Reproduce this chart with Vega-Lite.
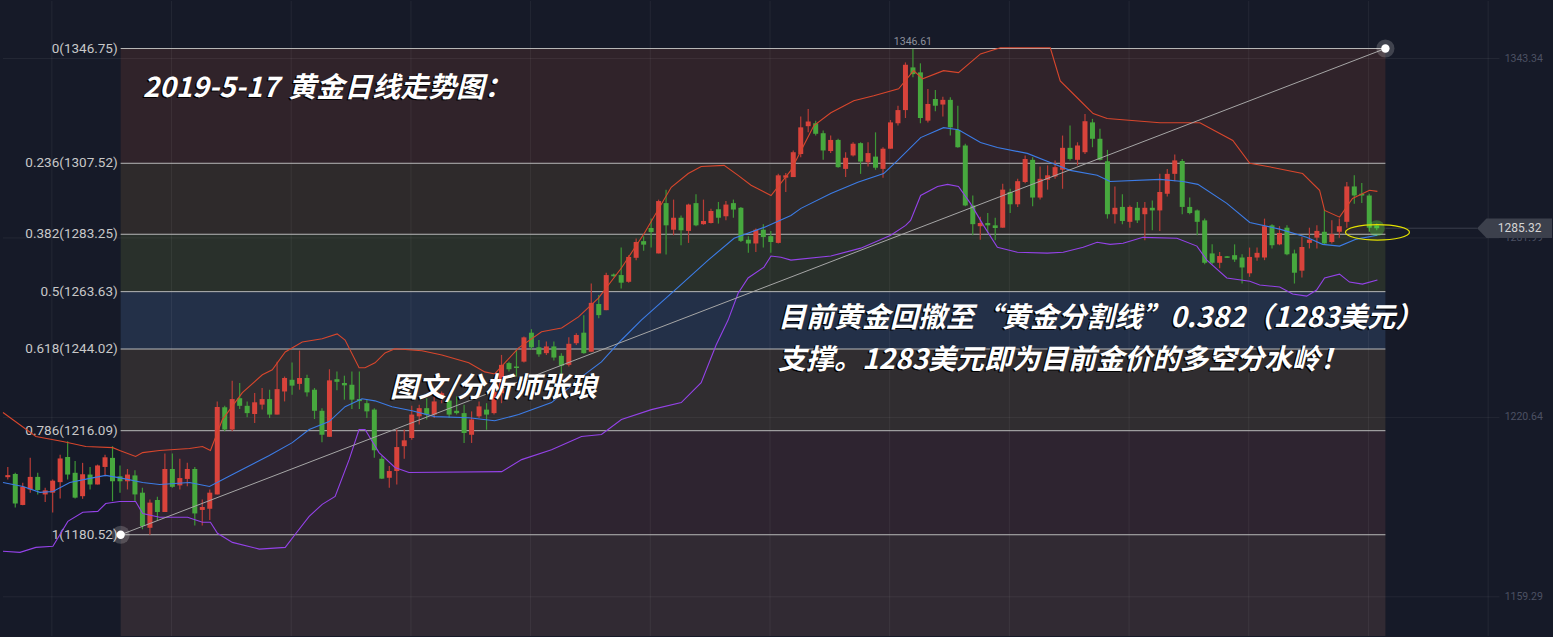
{
"$schema":"https://vega.github.io/schema/vega-lite/v6.json",
"width":1553,"height":637,
"autosize":{"type":"fit","contains":"padding"},
"padding":0,
"background":"#161a28",
"config":{"view":{"stroke":null},"scale":{"continuousPadding":0}},
"datasets":{
"bands":[{"z":"a","p":1346.75,"p2":1307.52},{"z":"b","p":1307.52,"p2":1283.25},{"z":"c","p":1283.25,"p2":1263.63},{"z":"d","p":1263.63,"p2":1244.02},{"z":"e","p":1244.02,"p2":1216.09},{"z":"f","p":1216.09,"p2":1180.52},{"z":"g","p":1180.52,"p2":1145.9}],
"fib":[{"p":1346.75,"t":"0(1346.75)"},{"p":1307.52,"t":"0.236(1307.52)"},{"p":1283.25,"t":"0.382(1283.25)"},{"p":1263.63,"t":"0.5(1263.63)"},{"p":1244.02,"t":"0.618(1244.02)"},{"p":1216.09,"t":"0.786(1216.09)"},{"p":1180.52,"t":"1(1180.52)"}],
"vgrid":[{"i":5.89},{"i":21.89},{"i":37.89},{"i":53.89},{"i":69.89},{"i":85.89},{"i":101.89},{"i":117.89},{"i":133.89},{"i":149.89},{"i":165.89},{"i":181.89},{"i":197.89}],
"hgrid":[{"p":1343.34,"t":"1343.34"},{"p":1281.99,"t":"1281.99"},{"p":1220.64,"t":"1220.64"},{"p":1159.29,"t":"1159.29"}],
"anchors":[{"i":15.09,"p":1180.52},{"i":184.16,"p":1346.75}],
"candles":[
{"i":0,"o":1200.2,"h":1203.7,"l":1199.4,"c":1200.9},
{"i":1,"o":1201.3,"h":1201.7,"l":1189.8,"c":1191.2},
{"i":2,"o":1190.7,"h":1198.3,"l":1190.6,"c":1196.9},
{"i":3,"o":1196.0,"h":1206.8,"l":1194.9,"c":1200.3},
{"i":4,"o":1200.3,"h":1201.7,"l":1194.3,"c":1195.8},
{"i":5,"o":1194.3,"h":1196.6,"l":1191.7,"c":1195.7},
{"i":6,"o":1194.9,"h":1199.4,"l":1188.1,"c":1199.0},
{"i":7,"o":1198.5,"h":1207.9,"l":1192.9,"c":1206.6},
{"i":8,"o":1207.1,"h":1212.5,"l":1199.4,"c":1201.1},
{"i":9,"o":1201.7,"h":1205.7,"l":1192.9,"c":1193.2},
{"i":10,"o":1193.7,"h":1205.1,"l":1192.8,"c":1201.2},
{"i":11,"o":1201.1,"h":1203.7,"l":1196.0,"c":1197.7},
{"i":12,"o":1197.7,"h":1204.5,"l":1197.7,"c":1204.2},
{"i":13,"o":1203.7,"h":1207.9,"l":1200.5,"c":1207.0},
{"i":14,"o":1206.8,"h":1210.8,"l":1192.0,"c":1198.8},
{"i":15,"o":1200.5,"h":1204.2,"l":1194.9,"c":1198.8},
{"i":16,"o":1198.8,"h":1203.0,"l":1196.0,"c":1201.1},
{"i":17,"o":1200.8,"h":1202.6,"l":1192.0,"c":1194.3},
{"i":18,"o":1194.9,"h":1196.6,"l":1182.4,"c":1183.5},
{"i":19,"o":1182.9,"h":1192.6,"l":1180.5,"c":1191.5},
{"i":20,"o":1192.4,"h":1193.5,"l":1185.2,"c":1188.3},
{"i":21,"o":1188.3,"h":1208.3,"l":1188.3,"c":1203.0},
{"i":22,"o":1203.0,"h":1208.3,"l":1196.6,"c":1196.9},
{"i":23,"o":1197.4,"h":1206.5,"l":1196.0,"c":1199.9},
{"i":24,"o":1199.6,"h":1205.1,"l":1197.1,"c":1203.0},
{"i":25,"o":1203.0,"h":1203.7,"l":1183.7,"c":1187.8},
{"i":26,"o":1189.0,"h":1192.6,"l":1183.7,"c":1190.0},
{"i":27,"o":1189.4,"h":1196.0,"l":1185.6,"c":1194.9},
{"i":28,"o":1194.3,"h":1226.1,"l":1194.3,"c":1224.2},
{"i":29,"o":1224.1,"h":1224.6,"l":1215.9,"c":1216.5},
{"i":30,"o":1216.5,"h":1233.2,"l":1215.9,"c":1226.9},
{"i":31,"o":1227.2,"h":1232.4,"l":1223.5,"c":1224.6},
{"i":32,"o":1224.6,"h":1226.1,"l":1220.7,"c":1222.1},
{"i":33,"o":1221.8,"h":1229.0,"l":1218.7,"c":1225.8},
{"i":34,"o":1225.0,"h":1230.7,"l":1223.3,"c":1226.9},
{"i":35,"o":1226.9,"h":1230.1,"l":1220.4,"c":1221.6},
{"i":36,"o":1221.6,"h":1239.7,"l":1221.6,"c":1230.3},
{"i":37,"o":1229.5,"h":1234.6,"l":1226.1,"c":1234.1},
{"i":38,"o":1233.5,"h":1239.4,"l":1228.4,"c":1231.5},
{"i":39,"o":1232.1,"h":1243.5,"l":1230.1,"c":1234.1},
{"i":40,"o":1234.1,"h":1235.2,"l":1227.8,"c":1229.2},
{"i":41,"o":1230.1,"h":1230.7,"l":1220.1,"c":1222.9},
{"i":42,"o":1222.9,"h":1223.8,"l":1212.1,"c":1214.7},
{"i":43,"o":1214.0,"h":1237.1,"l":1214.0,"c":1233.3},
{"i":44,"o":1233.7,"h":1236.3,"l":1229.9,"c":1232.8},
{"i":45,"o":1232.4,"h":1234.9,"l":1226.7,"c":1231.6},
{"i":46,"o":1231.8,"h":1236.3,"l":1223.5,"c":1226.7},
{"i":47,"o":1226.9,"h":1236.3,"l":1223.5,"c":1226.2},
{"i":48,"o":1225.5,"h":1226.7,"l":1220.4,"c":1222.7},
{"i":49,"o":1223.3,"h":1223.8,"l":1206.8,"c":1209.4},
{"i":50,"o":1206.5,"h":1207.4,"l":1199.6,"c":1199.7},
{"i":51,"o":1200.0,"h":1204.0,"l":1196.6,"c":1202.3},
{"i":52,"o":1202.3,"h":1216.5,"l":1197.7,"c":1210.5},
{"i":53,"o":1210.8,"h":1216.5,"l":1206.5,"c":1212.8},
{"i":54,"o":1213.6,"h":1224.6,"l":1213.0,"c":1221.6},
{"i":55,"o":1221.0,"h":1225.0,"l":1218.2,"c":1223.8},
{"i":56,"o":1223.8,"h":1227.2,"l":1219.9,"c":1221.6},
{"i":57,"o":1221.6,"h":1227.8,"l":1220.4,"c":1226.1},
{"i":58,"o":1227.8,"h":1229.5,"l":1225.5,"c":1228.9},
{"i":59,"o":1226.4,"h":1227.8,"l":1220.4,"c":1221.6},
{"i":60,"o":1222.9,"h":1227.8,"l":1221.6,"c":1222.1},
{"i":61,"o":1222.1,"h":1225.0,"l":1211.9,"c":1215.3},
{"i":62,"o":1214.7,"h":1222.7,"l":1211.9,"c":1219.9},
{"i":63,"o":1221.0,"h":1226.1,"l":1220.4,"c":1224.4},
{"i":64,"o":1223.3,"h":1225.5,"l":1216.4,"c":1221.6},
{"i":65,"o":1222.1,"h":1231.8,"l":1221.6,"c":1229.5},
{"i":66,"o":1228.9,"h":1242.0,"l":1225.5,"c":1238.6},
{"i":67,"o":1239.2,"h":1239.7,"l":1236.3,"c":1237.1},
{"i":68,"o":1238.0,"h":1243.7,"l":1234.6,"c":1237.5},
{"i":69,"o":1239.7,"h":1248.3,"l":1239.4,"c":1248.0},
{"i":70,"o":1249.6,"h":1250.8,"l":1243.7,"c":1244.6},
{"i":71,"o":1244.6,"h":1247.1,"l":1241.4,"c":1242.2},
{"i":72,"o":1242.6,"h":1246.6,"l":1242.0,"c":1244.9},
{"i":73,"o":1244.9,"h":1246.6,"l":1240.1,"c":1241.1},
{"i":74,"o":1241.7,"h":1242.6,"l":1234.1,"c":1238.3},
{"i":75,"o":1238.6,"h":1248.0,"l":1238.0,"c":1245.8},
{"i":76,"o":1246.0,"h":1249.4,"l":1245.4,"c":1248.8},
{"i":77,"o":1249.6,"h":1255.6,"l":1242.4,"c":1242.6},
{"i":78,"o":1243.1,"h":1266.4,"l":1243.1,"c":1259.8},
{"i":79,"o":1259.4,"h":1262.5,"l":1254.5,"c":1255.6},
{"i":80,"o":1257.3,"h":1270.1,"l":1257.3,"c":1269.3},
{"i":81,"o":1269.5,"h":1269.8,"l":1268.7,"c":1268.9},
{"i":82,"o":1269.3,"h":1278.7,"l":1264.7,"c":1266.7},
{"i":83,"o":1267.0,"h":1276.1,"l":1266.7,"c":1275.5},
{"i":84,"o":1275.2,"h":1281.8,"l":1274.4,"c":1280.6},
{"i":85,"o":1280.9,"h":1282.6,"l":1277.6,"c":1279.7},
{"i":86,"o":1285.4,"h":1288.6,"l":1278.7,"c":1284.0},
{"i":87,"o":1276.7,"h":1295.1,"l":1276.7,"c":1294.6},
{"i":88,"o":1293.9,"h":1298.5,"l":1276.3,"c":1286.3},
{"i":89,"o":1284.8,"h":1295.1,"l":1282.9,"c":1288.9},
{"i":90,"o":1288.9,"h":1289.7,"l":1279.5,"c":1284.6},
{"i":91,"o":1284.4,"h":1293.7,"l":1280.3,"c":1293.4},
{"i":92,"o":1293.9,"h":1296.9,"l":1286.0,"c":1286.3},
{"i":93,"o":1286.7,"h":1295.1,"l":1286.5,"c":1287.8},
{"i":94,"o":1287.1,"h":1292.0,"l":1286.9,"c":1291.2},
{"i":95,"o":1291.8,"h":1294.3,"l":1286.9,"c":1288.9},
{"i":96,"o":1289.4,"h":1294.6,"l":1288.0,"c":1293.4},
{"i":97,"o":1293.9,"h":1295.1,"l":1288.9,"c":1291.7},
{"i":98,"o":1292.3,"h":1292.6,"l":1280.6,"c":1281.0},
{"i":99,"o":1281.4,"h":1282.6,"l":1276.9,"c":1280.1},
{"i":100,"o":1280.1,"h":1285.2,"l":1277.2,"c":1284.8},
{"i":101,"o":1284.8,"h":1286.7,"l":1278.7,"c":1282.3},
{"i":102,"o":1282.6,"h":1284.4,"l":1276.9,"c":1280.6},
{"i":103,"o":1280.3,"h":1303.9,"l":1280.1,"c":1303.4},
{"i":104,"o":1302.6,"h":1304.2,"l":1297.7,"c":1303.4},
{"i":105,"o":1302.8,"h":1311.9,"l":1302.8,"c":1311.3},
{"i":106,"o":1310.7,"h":1323.5,"l":1309.6,"c":1319.8},
{"i":107,"o":1320.2,"h":1326.1,"l":1318.1,"c":1321.8},
{"i":108,"o":1321.2,"h":1322.1,"l":1317.0,"c":1317.6},
{"i":109,"o":1317.8,"h":1318.7,"l":1308.7,"c":1311.9},
{"i":110,"o":1311.7,"h":1317.0,"l":1311.0,"c":1315.5},
{"i":111,"o":1315.5,"h":1315.9,"l":1306.0,"c":1306.2},
{"i":112,"o":1305.6,"h":1311.3,"l":1302.8,"c":1309.4},
{"i":113,"o":1310.2,"h":1314.7,"l":1309.8,"c":1314.2},
{"i":114,"o":1314.4,"h":1314.7,"l":1303.9,"c":1308.1},
{"i":115,"o":1307.9,"h":1314.7,"l":1306.4,"c":1311.0},
{"i":116,"o":1309.8,"h":1318.1,"l":1305.3,"c":1306.0},
{"i":117,"o":1305.6,"h":1313.0,"l":1302.6,"c":1312.5},
{"i":118,"o":1312.5,"h":1322.3,"l":1312.5,"c":1321.5},
{"i":119,"o":1321.2,"h":1327.2,"l":1320.4,"c":1325.7},
{"i":120,"o":1325.7,"h":1342.0,"l":1323.0,"c":1341.2},
{"i":121,"o":1340.3,"h":1346.6,"l":1336.9,"c":1338.0},
{"i":122,"o":1338.6,"h":1341.7,"l":1321.2,"c":1323.0},
{"i":123,"o":1322.1,"h":1332.9,"l":1321.5,"c":1327.8},
{"i":124,"o":1329.5,"h":1332.6,"l":1325.3,"c":1327.2},
{"i":125,"o":1327.6,"h":1330.3,"l":1323.5,"c":1329.2},
{"i":126,"o":1329.2,"h":1330.1,"l":1317.0,"c":1319.8},
{"i":127,"o":1318.9,"h":1327.2,"l":1312.8,"c":1313.0},
{"i":128,"o":1313.6,"h":1314.2,"l":1292.8,"c":1293.1},
{"i":129,"o":1293.1,"h":1296.5,"l":1282.9,"c":1286.7},
{"i":130,"o":1286.0,"h":1289.2,"l":1281.4,"c":1287.1},
{"i":131,"o":1287.1,"h":1290.5,"l":1283.5,"c":1286.3},
{"i":132,"o":1286.3,"h":1288.9,"l":1281.2,"c":1285.4},
{"i":133,"o":1285.5,"h":1300.5,"l":1285.5,"c":1298.5},
{"i":134,"o":1297.7,"h":1298.8,"l":1290.5,"c":1293.5},
{"i":135,"o":1293.5,"h":1302.2,"l":1292.6,"c":1301.4},
{"i":136,"o":1301.1,"h":1310.2,"l":1300.7,"c":1309.0},
{"i":137,"o":1308.7,"h":1309.6,"l":1292.8,"c":1295.8},
{"i":138,"o":1295.8,"h":1306.4,"l":1295.1,"c":1302.2},
{"i":139,"o":1301.9,"h":1306.8,"l":1298.5,"c":1303.4},
{"i":140,"o":1303.0,"h":1308.5,"l":1302.2,"c":1306.2},
{"i":141,"o":1305.3,"h":1317.0,"l":1298.8,"c":1312.8},
{"i":142,"o":1312.8,"h":1320.4,"l":1308.5,"c":1309.0},
{"i":143,"o":1308.7,"h":1314.7,"l":1306.8,"c":1313.6},
{"i":144,"o":1311.3,"h":1324.4,"l":1310.7,"c":1321.9},
{"i":145,"o":1321.5,"h":1322.7,"l":1313.0,"c":1315.9},
{"i":146,"o":1315.9,"h":1319.3,"l":1308.5,"c":1308.7},
{"i":147,"o":1308.2,"h":1312.1,"l":1288.6,"c":1290.1},
{"i":148,"o":1290.1,"h":1299.6,"l":1286.9,"c":1292.3},
{"i":149,"o":1292.6,"h":1296.9,"l":1286.7,"c":1287.8},
{"i":150,"o":1287.5,"h":1293.1,"l":1285.5,"c":1292.6},
{"i":151,"o":1292.3,"h":1294.3,"l":1287.1,"c":1288.0},
{"i":152,"o":1290.1,"h":1294.3,"l":1281.2,"c":1292.3},
{"i":153,"o":1292.3,"h":1294.8,"l":1284.6,"c":1291.4},
{"i":154,"o":1291.4,"h":1303.9,"l":1284.4,"c":1297.7},
{"i":155,"o":1297.1,"h":1305.6,"l":1296.2,"c":1303.9},
{"i":156,"o":1303.9,"h":1310.5,"l":1301.4,"c":1308.5},
{"i":157,"o":1308.3,"h":1309.0,"l":1290.1,"c":1292.6},
{"i":158,"o":1292.6,"h":1295.8,"l":1290.1,"c":1290.5},
{"i":159,"o":1291.4,"h":1291.7,"l":1282.9,"c":1287.5},
{"i":160,"o":1288.0,"h":1288.6,"l":1273.0,"c":1273.5},
{"i":161,"o":1276.7,"h":1279.8,"l":1273.0,"c":1273.5},
{"i":162,"o":1273.5,"h":1277.2,"l":1271.6,"c":1275.8},
{"i":163,"o":1275.7,"h":1275.8,"l":1275.1,"c":1275.2},
{"i":164,"o":1276.1,"h":1279.8,"l":1273.8,"c":1274.6},
{"i":165,"o":1275.3,"h":1276.4,"l":1266.4,"c":1271.9},
{"i":166,"o":1269.9,"h":1278.7,"l":1268.7,"c":1275.5},
{"i":167,"o":1275.3,"h":1278.7,"l":1274.2,"c":1276.9},
{"i":168,"o":1275.3,"h":1288.6,"l":1274.4,"c":1286.0},
{"i":169,"o":1286.3,"h":1286.7,"l":1278.4,"c":1279.5},
{"i":170,"o":1279.8,"h":1286.0,"l":1279.5,"c":1283.7},
{"i":171,"o":1285.5,"h":1286.3,"l":1276.1,"c":1276.4},
{"i":172,"o":1276.7,"h":1278.0,"l":1266.4,"c":1270.1},
{"i":173,"o":1270.8,"h":1282.3,"l":1268.5,"c":1278.9},
{"i":174,"o":1280.3,"h":1285.5,"l":1278.4,"c":1281.4},
{"i":175,"o":1282.1,"h":1286.3,"l":1278.4,"c":1284.4},
{"i":176,"o":1284.1,"h":1291.7,"l":1279.8,"c":1280.1},
{"i":177,"o":1280.6,"h":1288.0,"l":1280.1,"c":1283.3},
{"i":178,"o":1284.1,"h":1288.6,"l":1282.1,"c":1286.0},
{"i":179,"o":1287.5,"h":1301.1,"l":1285.5,"c":1299.6},
{"i":180,"o":1299.6,"h":1303.4,"l":1293.7,"c":1296.5},
{"i":181,"o":1297.1,"h":1300.8,"l":1293.9,"c":1296.5},
{"i":182,"o":1296.5,"h":1297.1,"l":1284.1,"c":1285.5},
{"i":183,"o":1286.3,"h":1286.9,"l":1284.6,"c":1285.3}
],
"bb":[
{"b":"up","i":-0.64,"p":1222.3},{"b":"up","i":3.76,"p":1214.1},{"b":"up","i":7.36,"p":1212.4},{"b":"up","i":10.43,"p":1210.7},{"b":"up","i":14.03,"p":1210.3},{"b":"up","i":14.96,"p":1209.3},{"b":"up","i":17.09,"p":1207.3},{"b":"up","i":18.03,"p":1208.6},{"b":"up","i":20.29,"p":1209.3},{"b":"up","i":24.29,"p":1210.0},{"b":"up","i":26.03,"p":1210.7},{"b":"up","i":27.09,"p":1209.3},{"b":"up","i":28.69,"p":1219.9},{"b":"up","i":31.36,"p":1229.1},{"b":"up","i":34.03,"p":1235.2},{"b":"up","i":35.36,"p":1236.9},{"b":"up","i":37.09,"p":1243.0},{"b":"up","i":39.36,"p":1246.4},{"b":"up","i":42.03,"p":1247.5},{"b":"up","i":44.03,"p":1249.2},{"b":"up","i":45.09,"p":1247.1},{"b":"up","i":46.96,"p":1237.6},{"b":"up","i":47.76,"p":1237.6},{"b":"up","i":49.09,"p":1239.3},{"b":"up","i":50.43,"p":1242.7},{"b":"up","i":51.76,"p":1244.1},{"b":"up","i":55.36,"p":1243.4},{"b":"up","i":58.03,"p":1242.0},{"b":"up","i":61.63,"p":1239.3},{"b":"up","i":63.76,"p":1236.2},{"b":"up","i":65.09,"p":1235.5},{"b":"up","i":68.29,"p":1244.4},{"b":"up","i":71.36,"p":1249.9},{"b":"up","i":74.03,"p":1251.2},{"b":"up","i":76.29,"p":1255.0},{"b":"up","i":78.96,"p":1261.4},{"b":"up","i":82.03,"p":1271.7},{"b":"up","i":85.09,"p":1283.6},{"b":"up","i":88.69,"p":1299.3},{"b":"up","i":90.96,"p":1304.0},{"b":"up","i":92.69,"p":1306.4},{"b":"up","i":95.76,"p":1306.8},{"b":"up","i":97.63,"p":1303.4},{"b":"up","i":99.36,"p":1300.0},{"b":"up","i":102.03,"p":1296.5},{"b":"up","i":104.69,"p":1305.1},{"b":"up","i":107.76,"p":1320.4},{"b":"up","i":110.03,"p":1324.8},{"b":"up","i":113.09,"p":1328.9},{"b":"up","i":115.76,"p":1330.6},{"b":"up","i":119.09,"p":1333.0},{"b":"up","i":121.09,"p":1339.2},{"b":"up","i":122.29,"p":1336.4},{"b":"up","i":125.09,"p":1339.2},{"b":"up","i":127.09,"p":1338.5},{"b":"up","i":130.03,"p":1344.9},{"b":"up","i":132.69,"p":1347.0},{"b":"up","i":139.36,"p":1347.0},{"b":"up","i":140.69,"p":1335.7},{"b":"up","i":143.36,"p":1328.9},{"b":"up","i":145.09,"p":1324.5},{"b":"up","i":146.96,"p":1322.8},{"b":"up","i":154.03,"p":1321.4},{"b":"up","i":159.36,"p":1321.4},{"b":"up","i":163.76,"p":1315.3},{"b":"up","i":166.03,"p":1307.5},{"b":"up","i":169.09,"p":1306.1},{"b":"up","i":173.09,"p":1304.0},{"b":"up","i":175.36,"p":1298.3},{"b":"up","i":176.03,"p":1291.4},{"b":"up","i":178.03,"p":1289.1},{"b":"up","i":179.76,"p":1295.5},{"b":"up","i":182.03,"p":1298.3},{"b":"up","i":183.09,"p":1297.9},
{"b":"mid","i":-0.64,"p":1198.4},{"b":"mid","i":2.03,"p":1197.0},{"b":"mid","i":4.29,"p":1195.0},{"b":"mid","i":6.03,"p":1195.3},{"b":"mid","i":8.29,"p":1198.4},{"b":"mid","i":10.96,"p":1199.8},{"b":"mid","i":13.09,"p":1200.8},{"b":"mid","i":15.36,"p":1199.8},{"b":"mid","i":18.03,"p":1198.4},{"b":"mid","i":20.29,"p":1197.7},{"b":"mid","i":24.29,"p":1198.4},{"b":"mid","i":26.96,"p":1197.0},{"b":"mid","i":30.03,"p":1201.1},{"b":"mid","i":34.96,"p":1207.6},{"b":"mid","i":38.03,"p":1212.0},{"b":"mid","i":40.29,"p":1216.5},{"b":"mid","i":42.96,"p":1219.2},{"b":"mid","i":45.09,"p":1224.3},{"b":"mid","i":47.36,"p":1227.0},{"b":"mid","i":49.09,"p":1226.3},{"b":"mid","i":51.36,"p":1224.3},{"b":"mid","i":54.03,"p":1222.9},{"b":"mid","i":57.09,"p":1220.9},{"b":"mid","i":61.63,"p":1220.5},{"b":"mid","i":65.09,"p":1219.5},{"b":"mid","i":68.29,"p":1221.6},{"b":"mid","i":72.69,"p":1225.7},{"b":"mid","i":76.69,"p":1234.5},{"b":"mid","i":79.36,"p":1239.6},{"b":"mid","i":82.03,"p":1247.1},{"b":"mid","i":84.69,"p":1253.9},{"b":"mid","i":89.63,"p":1265.2},{"b":"mid","i":93.63,"p":1274.4},{"b":"mid","i":97.09,"p":1281.9},{"b":"mid","i":101.09,"p":1285.6},{"b":"mid","i":104.69,"p":1289.7},{"b":"mid","i":106.03,"p":1292.1},{"b":"mid","i":110.03,"p":1297.2},{"b":"mid","i":113.63,"p":1301.0},{"b":"mid","i":117.09,"p":1304.0},{"b":"mid","i":118.96,"p":1308.5},{"b":"mid","i":122.03,"p":1316.3},{"b":"mid","i":125.09,"p":1319.7},{"b":"mid","i":127.09,"p":1319.0},{"b":"mid","i":130.03,"p":1314.6},{"b":"mid","i":132.29,"p":1312.9},{"b":"mid","i":136.29,"p":1310.9},{"b":"mid","i":139.36,"p":1307.8},{"b":"mid","i":142.03,"p":1305.1},{"b":"mid","i":145.63,"p":1303.4},{"b":"mid","i":147.36,"p":1301.3},{"b":"mid","i":154.03,"p":1302.0},{"b":"mid","i":157.09,"p":1301.3},{"b":"mid","i":159.09,"p":1300.3},{"b":"mid","i":162.96,"p":1293.8},{"b":"mid","i":166.03,"p":1287.3},{"b":"mid","i":170.03,"p":1285.0},{"b":"mid","i":173.63,"p":1282.2},{"b":"mid","i":175.76,"p":1279.8},{"b":"mid","i":178.03,"p":1279.2},{"b":"mid","i":180.29,"p":1281.6},{"b":"mid","i":183.09,"p":1282.9},
{"b":"lo","i":-0.64,"p":1174.9},{"b":"lo","i":1.63,"p":1174.5},{"b":"lo","i":3.76,"p":1176.2},{"b":"lo","i":6.03,"p":1176.6},{"b":"lo","i":8.03,"p":1185.1},{"b":"lo","i":10.03,"p":1188.2},{"b":"lo","i":12.03,"p":1188.5},{"b":"lo","i":13.09,"p":1191.2},{"b":"lo","i":14.96,"p":1191.9},{"b":"lo","i":17.09,"p":1191.9},{"b":"lo","i":18.03,"p":1187.8},{"b":"lo","i":20.29,"p":1186.5},{"b":"lo","i":24.03,"p":1186.5},{"b":"lo","i":26.03,"p":1184.8},{"b":"lo","i":27.09,"p":1184.8},{"b":"lo","i":28.03,"p":1181.0},{"b":"lo","i":30.03,"p":1177.9},{"b":"lo","i":33.63,"p":1175.6},{"b":"lo","i":37.09,"p":1176.2},{"b":"lo","i":38.43,"p":1180.7},{"b":"lo","i":40.29,"p":1186.8},{"b":"lo","i":42.03,"p":1190.9},{"b":"lo","i":43.76,"p":1193.6},{"b":"lo","i":45.63,"p":1206.2},{"b":"lo","i":46.96,"p":1216.5},{"b":"lo","i":47.76,"p":1216.5},{"b":"lo","i":49.63,"p":1208.6},{"b":"lo","i":51.76,"p":1203.5},{"b":"lo","i":53.63,"p":1201.8},{"b":"lo","i":66.03,"p":1202.1},{"b":"lo","i":68.69,"p":1206.2},{"b":"lo","i":72.69,"p":1209.6},{"b":"lo","i":76.69,"p":1214.1},{"b":"lo","i":79.36,"p":1214.8},{"b":"lo","i":82.03,"p":1219.9},{"b":"lo","i":86.03,"p":1223.3},{"b":"lo","i":90.03,"p":1225.7},{"b":"lo","i":92.69,"p":1232.5},{"b":"lo","i":94.69,"p":1245.4},{"b":"lo","i":96.29,"p":1253.9},{"b":"lo","i":97.63,"p":1263.1},{"b":"lo","i":98.96,"p":1268.3},{"b":"lo","i":101.09,"p":1272.0},{"b":"lo","i":102.03,"p":1275.8},{"b":"lo","i":103.36,"p":1275.4},{"b":"lo","i":104.69,"p":1274.4},{"b":"lo","i":110.03,"p":1275.8},{"b":"lo","i":114.03,"p":1278.5},{"b":"lo","i":118.03,"p":1282.9},{"b":"lo","i":120.03,"p":1286.3},{"b":"lo","i":120.69,"p":1288.0},{"b":"lo","i":122.03,"p":1296.5},{"b":"lo","i":124.29,"p":1299.6},{"b":"lo","i":125.63,"p":1300.3},{"b":"lo","i":127.09,"p":1299.6},{"b":"lo","i":128.69,"p":1293.8},{"b":"lo","i":130.43,"p":1286.3},{"b":"lo","i":132.29,"p":1278.8},{"b":"lo","i":134.96,"p":1277.1},{"b":"lo","i":138.96,"p":1276.8},{"b":"lo","i":141.09,"p":1277.1},{"b":"lo","i":143.76,"p":1278.8},{"b":"lo","i":145.63,"p":1280.5},{"b":"lo","i":147.36,"p":1279.8},{"b":"lo","i":149.09,"p":1280.2},{"b":"lo","i":151.76,"p":1282.2},{"b":"lo","i":156.29,"p":1281.9},{"b":"lo","i":158.96,"p":1279.2},{"b":"lo","i":160.29,"p":1274.4},{"b":"lo","i":162.96,"p":1268.3},{"b":"lo","i":166.03,"p":1267.2},{"b":"lo","i":167.36,"p":1265.9},{"b":"lo","i":170.03,"p":1265.2},{"b":"lo","i":171.76,"p":1262.8},{"b":"lo","i":173.63,"p":1262.1},{"b":"lo","i":174.96,"p":1264.2},{"b":"lo","i":176.03,"p":1268.3},{"b":"lo","i":178.03,"p":1269.6},{"b":"lo","i":179.36,"p":1266.9},{"b":"lo","i":181.09,"p":1266.2},{"b":"lo","i":183.09,"p":1267.6}
],
"notes":[{"i":18.03,"p":1333.0,"t":"2019-5-17"},{"i":37.49,"p":1333.0,"t":"黄金日线走势图："},{"i":51.09,"p":1230.4,"t":"图文/分析师张琅"},{"i":102.96,"p":1254.3,"t":"目前黄金回撤至“黄金分割线”0.382（1283美元）"},{"i":102.96,"p":1240.0,"t":"支撑。1283美元即为目前金价的多空分水岭！"}],
"hi":[{"i":121,"p":1346.61,"t":"1346.61"}],
"last":[{"i":183,"p":1285.32,"t":"1285.32"}],
"tag":[{"i":201.43,"p":1285.32,"t":"1285.32"}],
"ring":[{"i":183.1,"p":1283.9}]
},
"layer":[
{"data":{"name":"bands"},"mark":{"type":"rect"},
 "encoding":{"x":{"datum":15.09,"type":"quantitative","scale":{"domain":[-0.64,206.43],"nice":false,"zero":false,"padding":0},"axis":null},"x2":{"datum":184.16},
 "y":{"field":"p","type":"quantitative","scale":{"domain":[1145.9,1363.0],"nice":false,"zero":false,"padding":0},"axis":null},"y2":{"field":"p2"},
 "fill":{"field":"z","type":"nominal","legend":null,"scale":{"domain":["a","b","c","d","e","f","g"],"range":["#30232a","#2e2a2b","#29302b","#233048","#302d30","#2e2430","#312a33"]}}}},
{"data":{"name":"vgrid"},"mark":{"type":"rule","color":"#ffffff","opacity":0.06,"strokeWidth":1},
 "encoding":{"x":{"field":"i","type":"quantitative","scale":{"domain":[-0.64,206.43],"nice":false,"zero":false,"padding":0},"axis":null}}},
{"data":{"name":"hgrid"},"mark":{"type":"rule","color":"#ffffff","opacity":0.06,"strokeWidth":1},
 "encoding":{"x":{"datum":-0.64,"type":"quantitative","scale":{"domain":[-0.64,206.43],"nice":false,"zero":false,"padding":0},"axis":null},"x2":{"datum":199.4},
 "y":{"field":"p","type":"quantitative","scale":{"domain":[1145.9,1363.0],"nice":false,"zero":false,"padding":0},"axis":null}}},
{"data":{"name":"hgrid"},"mark":{"type":"text","align":"left","baseline":"middle","font":"Roboto","fontSize":10.5,"color":"#4c5163"},
 "encoding":{"x":{"datum":200.1,"type":"quantitative","scale":{"domain":[-0.64,206.43],"nice":false,"zero":false,"padding":0},"axis":null},
 "y":{"field":"p","type":"quantitative","scale":{"domain":[1145.9,1363.0],"nice":false,"zero":false,"padding":0},"axis":null},"text":{"field":"t","type":"nominal"}}},
{"data":{"name":"fib"},"mark":{"type":"rule","color":"#b9b9b9","strokeWidth":1},
 "encoding":{"x":{"datum":15.09,"type":"quantitative","scale":{"domain":[-0.64,206.43],"nice":false,"zero":false,"padding":0},"axis":null},"x2":{"datum":184.16},
 "y":{"field":"p","type":"quantitative","scale":{"domain":[1145.9,1363.0],"nice":false,"zero":false,"padding":0},"axis":null}}},
{"data":{"name":"fib"},"mark":{"type":"text","align":"right","baseline":"middle","dx":-3,"font":"Roboto","fontSize":13.5,"color":"#c8c8c8"},
 "encoding":{"x":{"datum":15.09,"type":"quantitative","scale":{"domain":[-0.64,206.43],"nice":false,"zero":false,"padding":0},"axis":null},
 "y":{"field":"p","type":"quantitative","scale":{"domain":[1145.9,1363.0],"nice":false,"zero":false,"padding":0},"axis":null},"text":{"field":"t","type":"nominal"}}},
{"data":{"name":"candles"},"mark":{"type":"rule","strokeWidth":1.2},
 "encoding":{"x":{"field":"i","type":"quantitative","scale":{"domain":[-0.64,206.43],"nice":false,"zero":false,"padding":0},"axis":null},
 "y":{"field":"l","type":"quantitative","scale":{"domain":[1145.9,1363.0],"nice":false,"zero":false,"padding":0},"axis":null},"y2":{"field":"h"},
 "color":{"condition":{"test":"datum.c >= datum.o","value":"#b83c36"},"value":"#3d9636"}}},
{"data":{"name":"candles"},"mark":{"type":"bar","size":5},
 "encoding":{"x":{"field":"i","type":"quantitative","scale":{"domain":[-0.64,206.43],"nice":false,"zero":false,"padding":0},"axis":null},
 "y":{"field":"o","type":"quantitative","scale":{"domain":[1145.9,1363.0],"nice":false,"zero":false,"padding":0},"axis":null},"y2":{"field":"c"},
 "color":{"condition":{"test":"datum.c >= datum.o","value":"#d8433b"},"value":"#47a83e"}}},
{"data":{"name":"bb"},"mark":{"type":"line","strokeWidth":1.1,"interpolate":"linear"},
 "encoding":{"x":{"field":"i","type":"quantitative","scale":{"domain":[-0.64,206.43],"nice":false,"zero":false,"padding":0},"axis":null},
 "y":{"field":"p","type":"quantitative","scale":{"domain":[1145.9,1363.0],"nice":false,"zero":false,"padding":0},"axis":null},
 "stroke":{"field":"b","type":"nominal","legend":null,"scale":{"domain":["up","mid","lo"],"range":["#d8462c","#3c7ce6","#9442e8"]}}}},
{"data":{"name":"anchors"},"mark":{"type":"line","color":"#a6a6a6","strokeWidth":1},
 "encoding":{"x":{"field":"i","type":"quantitative","scale":{"domain":[-0.64,206.43],"nice":false,"zero":false,"padding":0},"axis":null},
 "y":{"field":"p","type":"quantitative","scale":{"domain":[1145.9,1363.0],"nice":false,"zero":false,"padding":0},"axis":null}}},
{"data":{"name":"anchors"},"mark":{"type":"point","shape":"circle","filled":true,"color":"#ffffff","opacity":0.18,"size":330},
 "encoding":{"x":{"field":"i","type":"quantitative","scale":{"domain":[-0.64,206.43],"nice":false,"zero":false,"padding":0},"axis":null},
 "y":{"field":"p","type":"quantitative","scale":{"domain":[1145.9,1363.0],"nice":false,"zero":false,"padding":0},"axis":null}}},
{"data":{"name":"anchors"},"mark":{"type":"point","shape":"circle","filled":true,"color":"#ffffff","opacity":1,"size":70},
 "encoding":{"x":{"field":"i","type":"quantitative","scale":{"domain":[-0.64,206.43],"nice":false,"zero":false,"padding":0},"axis":null},
 "y":{"field":"p","type":"quantitative","scale":{"domain":[1145.9,1363.0],"nice":false,"zero":false,"padding":0},"axis":null}}},
{"data":{"name":"last"},"mark":{"type":"rule","color":"#3a3f4d","strokeWidth":1},
 "encoding":{"x":{"datum":184.16,"type":"quantitative","scale":{"domain":[-0.64,206.43],"nice":false,"zero":false,"padding":0},"axis":null},"x2":{"datum":196.4},
 "y":{"field":"p","type":"quantitative","scale":{"domain":[1145.9,1363.0],"nice":false,"zero":false,"padding":0},"axis":null}}},
{"data":{"name":"last"},"mark":{"type":"point","shape":"circle","filled":true,"color":"#5cff4a","opacity":0.28,"size":260},
 "encoding":{"x":{"field":"i","type":"quantitative","scale":{"domain":[-0.64,206.43],"nice":false,"zero":false,"padding":0},"axis":null},
 "y":{"field":"p","type":"quantitative","scale":{"domain":[1145.9,1363.0],"nice":false,"zero":false,"padding":0},"axis":null}}},
{"data":{"name":"ring"},"mark":{"type":"point","filled":false,"stroke":"#e3e000","strokeWidth":1.2,"opacity":1,"size":4096,
 "shape":"M -1 0 C -1 -0.1325 -0.5523 -0.24 0 -0.24 C 0.5523 -0.24 1 -0.1325 1 0 C 1 0.1325 0.5523 0.24 0 0.24 C -0.5523 0.24 -1 0.1325 -1 0 Z"},
 "encoding":{"x":{"field":"i","type":"quantitative","scale":{"domain":[-0.64,206.43],"nice":false,"zero":false,"padding":0},"axis":null},
 "y":{"field":"p","type":"quantitative","scale":{"domain":[1145.9,1363.0],"nice":false,"zero":false,"padding":0},"axis":null}}},
{"data":{"name":"tag"},"mark":{"type":"point","filled":true,"color":"#3c404c","opacity":1,"size":5625,
 "shape":"M -1 0 L -0.75 -0.26 L 1 -0.26 L 1 0.26 L -0.75 0.26 Z"},
 "encoding":{"x":{"field":"i","type":"quantitative","scale":{"domain":[-0.64,206.43],"nice":false,"zero":false,"padding":0},"axis":null},
 "y":{"field":"p","type":"quantitative","scale":{"domain":[1145.9,1363.0],"nice":false,"zero":false,"padding":0},"axis":null}}},
{"data":{"name":"tag"},"mark":{"type":"text","align":"center","baseline":"middle","dx":5,"font":"Roboto","fontSize":12,"color":"#d4d4d4"},
 "encoding":{"x":{"field":"i","type":"quantitative","scale":{"domain":[-0.64,206.43],"nice":false,"zero":false,"padding":0},"axis":null},
 "y":{"field":"p","type":"quantitative","scale":{"domain":[1145.9,1363.0],"nice":false,"zero":false,"padding":0},"axis":null},"text":{"field":"t","type":"nominal"}}},
{"data":{"name":"hi"},"mark":{"type":"text","align":"center","baseline":"bottom","dy":-2,"font":"Roboto","fontSize":10.5,"color":"#8d919c"},
 "encoding":{"x":{"field":"i","type":"quantitative","scale":{"domain":[-0.64,206.43],"nice":false,"zero":false,"padding":0},"axis":null},
 "y":{"field":"p","type":"quantitative","scale":{"domain":[1145.9,1363.0],"nice":false,"zero":false,"padding":0},"axis":null},"text":{"field":"t","type":"nominal"}}},
{"data":{"name":"notes"},"mark":{"type":"text","align":"left","baseline":"middle","dx":-1.5,"dy":1.5,"font":"Noto Sans CJK SC","fontWeight":"bold","fontStyle":"italic","fontSize":28,"color":"#000000"},
 "encoding":{"x":{"field":"i","type":"quantitative","scale":{"domain":[-0.64,206.43],"nice":false,"zero":false,"padding":0},"axis":null},
 "y":{"field":"p","type":"quantitative","scale":{"domain":[1145.9,1363.0],"nice":false,"zero":false,"padding":0},"axis":null},"text":{"field":"t","type":"nominal"}}},
{"data":{"name":"notes"},"mark":{"type":"text","align":"left","baseline":"middle","font":"Noto Sans CJK SC","fontWeight":"bold","fontStyle":"italic","fontSize":28,"color":"#ffffff"},
 "encoding":{"x":{"field":"i","type":"quantitative","scale":{"domain":[-0.64,206.43],"nice":false,"zero":false,"padding":0},"axis":null},
 "y":{"field":"p","type":"quantitative","scale":{"domain":[1145.9,1363.0],"nice":false,"zero":false,"padding":0},"axis":null},"text":{"field":"t","type":"nominal"}}}
]
}
